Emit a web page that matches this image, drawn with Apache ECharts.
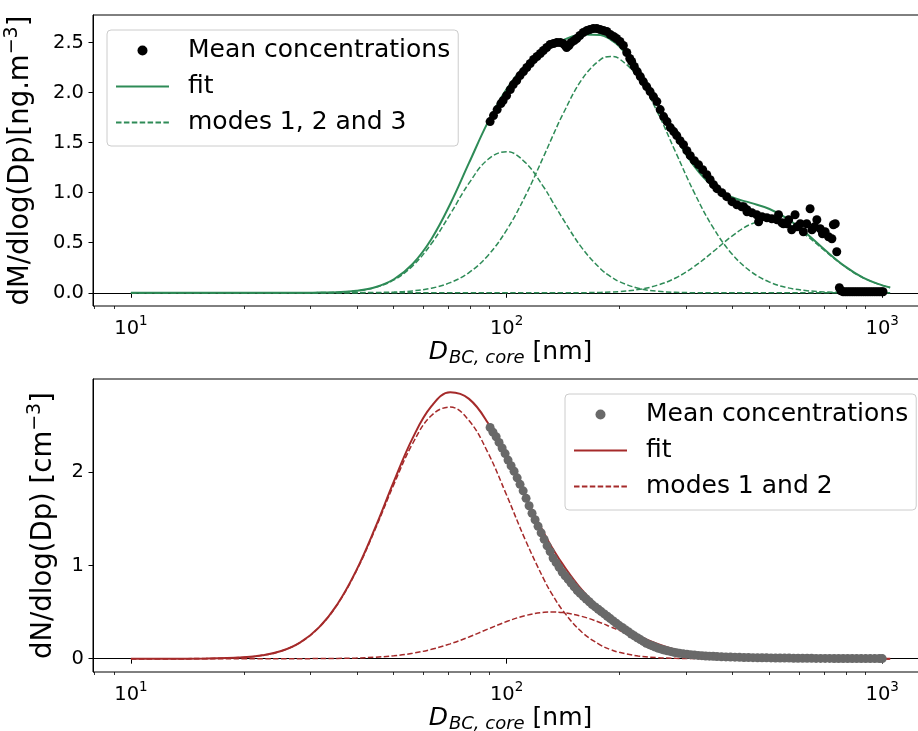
<!DOCTYPE html>
<html><head><meta charset="utf-8">
<script src="https://cdn.jsdelivr.net/npm/echarts@6/dist/echarts.min.js"></script>
<style>html,body{margin:0;padding:0;background:#fff}#c{width:918px;height:731px}</style>
</head><body><div id="c"></div>
<script>
// ---------- data ----------
const curveD = [10,12.59,15.85,19.95,22.39,25.12,28.18,31.62,35.48,39.81,44.67,50.12,56.23,63.10,70.79,79.43,89.13,100,112.2,125.9,132.1,141.3,158.5,177.8,189.2,199.5,223.9,251.2,281.8,316.2,354.8,398.1,446.7,501.2,562.3,631.0,707.9,794.3,891.3,1000,1050];

const topMode1 = [0,0,0,0,0,0,0,0.002,0.006,0.019,0.053,0.128,0.269,0.492,0.786,1.095,1.331,1.410,1.301,1.049,0.919,0.737,0.451,0.241,0.162,0.112,0.046,0.016,0.005,0.001,0,0,0,0,0,0,0,0,0,0,0];
const topMode2 = [0,0,0,0,0,0,0,0,0,0.001,0.003,0.007,0.019,0.046,0.101,0.202,0.371,0.626,0.968,1.373,1.550,1.786,2.129,2.330,2.360,2.338,2.152,1.817,1.406,0.998,0.650,0.388,0.213,0.107,0.049,0.021,0.008,0.003,0.001,0,0];
const topMode3 = [0,0,0,0,0,0,0,0,0,0,0,0,0,0,0,0,0,0,0,0,0,0,0.001,0.004,0.008,0.012,0.032,0.074,0.148,0.263,0.411,0.566,0.685,0.730,0.685,0.566,0.411,0.263,0.148,0.074,0.053];
const topFit   = [0,0,0,0,0,0,0,0.002,0.006,0.020,0.056,0.135,0.288,0.538,0.887,1.297,1.702,2.036,2.269,2.422,2.469,2.523,2.581,2.575,2.530,2.462,2.230,1.907,1.559,1.262,1.061,0.954,0.898,0.837,0.734,0.587,0.419,0.266,0.149,0.074,0.053];

const botMode1 = [0,0,0.002,0.014,0.036,0.082,0.173,0.332,0.584,0.940,1.386,1.870,2.308,2.609,2.699,2.554,2.213,1.755,1.273,0.845,0.693,0.514,0.286,0.146,0.097,0.068,0.029,0.011,0.004,0.001,0,0,0,0,0,0,0,0,0,0,0];
const botMode2 = [0,0,0,0,0,0,0,0.001,0.003,0.007,0.016,0.031,0.058,0.100,0.159,0.233,0.317,0.398,0.462,0.497,0.500,0.494,0.454,0.386,0.342,0.303,0.221,0.149,0.092,0.053,0.028,0.014,0.006,0.003,0.001,0,0,0,0,0,0];
const botFit   = [0,0,0.002,0.014,0.036,0.082,0.173,0.333,0.587,0.947,1.402,1.901,2.366,2.709,2.858,2.787,2.530,2.153,1.735,1.342,1.193,1.008,0.740,0.532,0.439,0.371,0.250,0.160,0.096,0.054,0.028,0.014,0.006,0.003,0.001,0,0,0,0,0,0];

const topDotD = [90.4,92.3,94.4,96.6,97.9,100,102.3,104.2,106.4,108.6,110.9,113.2,115.6,118.0,120.5,123.0,125.3,127.9,130.6,133.4,136.1,139.0,141.3,143.2,144.5,146.6,148.6,151.4,153.8,156.7,160.0,163.7,166.7,170.2,173.8,177.4,181.1,184.9,188.8,192.8,196.3,200.4,204.6,208.9,212.8,215.3,218.8,222.8,227.0,231.2,236.0,241.0,246.0,251.2,256.4,261.8,267.3,272.9,278.6,283.8,289.7,295.8,302.0,308.3,316.2,324.3,332.7,341.2,348.3,355.6,363.1,374.1,385.5,398.1,410.2,422.7,436.5,449.8,463.4,478.6,493.2,508.2,524.8,540.8,557.2,574.1,586.1,592.9,605.3,616.6,629.5,642.7,650.1,660.7,669.9,683.9,693.4,704.7,719.5,734.5,741.3,749.9,756.8,
  427.6,436.5,468.8,529.7,545.8,563.7,
  769.0,776.2,787.0,798.0,809.1,820.4,831.8,843.3,855.1,867.0,879.0,891.3,903.6,916.2,929.0,941.9,955.0,968.3,981.8,995.4,1005];
const topDotV = [1.71,1.77,1.83,1.89,1.92,1.97,2.03,2.08,2.12,2.17,2.21,2.25,2.29,2.33,2.36,2.39,2.42,2.45,2.48,2.49,2.50,2.50,2.49,2.47,2.45,2.47,2.50,2.52,2.54,2.57,2.60,2.62,2.63,2.64,2.64,2.63,2.62,2.61,2.58,2.56,2.54,2.51,2.47,2.40,2.34,2.31,2.26,2.21,2.16,2.11,2.06,2.01,1.96,1.91,1.83,1.76,1.71,1.65,1.61,1.57,1.52,1.48,1.42,1.37,1.32,1.28,1.23,1.18,1.13,1.08,1.04,1.00,0.96,0.91,0.88,0.86,0.83,0.80,0.78,0.76,0.75,0.74,0.73,0.70,0.69,0.63,0.78,0.66,0.69,0.61,0.69,0.84,0.63,0.66,0.73,0.64,0.59,0.61,0.56,0.54,0.68,0.69,0.41,
  0.86,0.81,0.71,0.78,0.69,0.73,
  0.05,0.02,0.01,0.01,0.01,0.01,0.01,0.01,0.01,0.01,0.01,0.01,0.01,0.01,0.01,0.01,0.01,0.01,0.01,0.01,0.01];

const botDotD = [90.4,92.0,93.8,95.5,97.3,99.1,100.9,102.8,104.7,106.7,108.6,110.7,112.7,114.8,116.9,119.1,121.3,123.6,125.9,128.2,130.6,133.0,135.5,138.0,140.6,143.2,145.9,148.6,151.4,154.2,157.0,160.0,162.9,166.0,169.0,172.2,175.4,178.6,182.0,185.4,188.8,192.3,195.9,199.5,203.2,207.0,210.9,214.8,218.8,222.8,227.0,231.2,235.5,239.9,244.3,248.9,253.5,258.2,263.0,267.9,272.9,278.0,283.1,288.4,295.1,302.0,309.0,316.2,323.6,331.1,338.8,346.7,354.8,363.1,373.3,383.7,394.5,405.5,416.9,428.5,440.6,452.9,465.6,478.6,492.0,505.8,520.0,534.6,549.5,565.0,580.8,597.0,613.8,631.0,648.6,666.8,685.5,704.7,724.4,744.7,765.6,787.0,809.1,831.8,855.1,879.0,903.6,929.0,955.0,981.8,1000];
const botDotV = [2.48,2.43,2.38,2.32,2.26,2.20,2.13,2.07,2.01,1.94,1.87,1.80,1.72,1.64,1.56,1.49,1.42,1.35,1.28,1.21,1.15,1.08,1.03,0.98,0.93,0.89,0.85,0.81,0.77,0.73,0.70,0.67,0.64,0.61,0.58,0.555,0.53,0.505,0.48,0.455,0.43,0.405,0.38,0.355,0.335,0.31,0.29,0.265,0.245,0.225,0.205,0.185,0.165,0.15,0.138,0.125,0.112,0.102,0.093,0.085,0.078,0.07,0.064,0.058,0.052,0.047,0.043,0.039,0.035,0.032,0.029,0.027,0.025,0.023,0.021,0.019,0.017,0.016,0.014,0.013,0.012,0.011,0.010,0.009,0.009,0.008,0.007,0.007,0.006,0.006,0.005,0.005,0.004,0.004,0.004,0.003,0.003,0.003,0.003,0.002,0.002,0.002,0.002,0.002,0.001,0.001,0.001,0.001,0.001,0.001,0.001];

const xMajorTicks = [10, 100, 1000];
const xMinorTicks = [8, 9, 20, 30, 40, 50, 60, 70, 80, 90, 200, 300, 400, 500, 600, 700, 800, 900];
const topYTicks = [0, 0.5, 1, 1.5, 2, 2.5];
const botYTicks = [0, 1, 2];

const topLegendNames = ['Mean concentrations', 'fit', 'modes 1, 2 and 3'];
const botLegendNames = ['Mean concentrations', 'fit', 'modes 1 and 2'];

// ---------- chart ----------
const FONT = 'DejaVu Sans';
const GREEN = '#2E8B57';
const RED = '#A52A2A';
const GREY = '#696969';
const XMIN = 7.925, XMAX = 1324;

function pairs(xs, ys) { return xs.map((x, i) => [x, ys[i]]); }

function xMain(gridIndex) {
  return {
    type: 'log', logBase: 10, gridIndex, min: XMIN, max: XMAX, position: 'bottom',
    axisLine: { show: true, lineStyle: { color: '#000', width: 1 } },
    axisTick: { show: true, customValues: xMajorTicks, length: 5, lineStyle: { color: '#000', width: 1 } },
    axisLabel: {
      show: true, customValues: xMajorTicks, margin: 8, color: '#000',
      formatter: v => '{b|10}{s|' + Math.round(Math.log10(v)) + '}',
      rich: {
        b: { fontSize: 19.5, fontFamily: FONT, color: '#000' },
        s: { fontSize: 13.5, fontFamily: FONT, color: '#000', padding: [0, 0, 15, 0] }
      }
    },
    splitLine: { show: false },
    nameLocation: 'middle', nameGap: 31, nameMoveOverlap: false,
    name: '{i|D}{sub|BC, core}{n| [nm]}',
    nameTextStyle: {
      rich: {
        i: { fontSize: 25, fontStyle: 'italic', fontFamily: FONT, color: '#000' },
        sub: { fontSize: 18, fontStyle: 'italic', fontFamily: FONT, color: '#000', padding: [12, 0, 0, 1] },
        n: { fontSize: 25, fontFamily: FONT, color: '#000' }
      }
    }
  };
}
function xMinor(gridIndex) {
  return {
    type: 'log', logBase: 10, gridIndex, min: XMIN, max: XMAX, position: 'bottom',
    axisLine: { show: false },
    axisTick: { show: true, customValues: xMinorTicks, length: 3, lineStyle: { color: '#000', width: 0.8 } },
    axisLabel: { show: false },
    splitLine: { show: false }
  };
}
function yAxis(gridIndex, min, max, ticks, fmt, name, gap) {
  return {
    type: 'value', gridIndex, min, max,
    axisLine: { show: true, lineStyle: { color: '#000', width: 1 } },
    axisTick: { show: true, customValues: ticks, length: 4.5, lineStyle: { color: '#000', width: 1 } },
    axisLabel: { show: true, customValues: ticks, formatter: fmt, margin: 9, color: '#000', fontSize: 19.5, fontFamily: FONT },
    splitLine: { show: false },
    name, nameLocation: 'middle', nameRotate: 90, nameGap: gap, nameMoveOverlap: false,
    nameTextStyle: {
      rich: {
        a: { fontSize: 27.5, fontFamily: FONT, color: '#000' },
        s: { fontSize: 19, fontFamily: FONT, color: '#000', padding: [0, 0, 16, 0] }
      }
    }
  };
}
const HIDDEN = { color: 'rgba(0,0,0,0)', borderColor: 'rgba(0,0,0,0)', borderWidth: 0, opacity: 0 };
function legend(left, top, names, suffix) {
  return {
    show: true, orient: 'vertical', left, top, selectedMode: false,
    padding: [8, 8, 11, 8], itemGap: 11, itemWidth: 53, itemHeight: 10,
    backgroundColor: 'rgba(255,255,255,0.8)', borderColor: '#cccccc', borderWidth: 1, borderRadius: 4,
    textStyle: { fontSize: 25, color: '#000', fontFamily: FONT, padding: [0, 0, 0, 14] },
    formatter: n => n.replace(suffix, ''),
    data: [
      { name: names[0] + suffix, icon: 'circle' },
      { name: names[1] + suffix, itemStyle: HIDDEN },
      { name: names[2], itemStyle: HIDDEN }
    ]
  };
}
function modeLine(name, xi, yi, ys, color) {
  return { type: 'line', name, xAxisIndex: xi, yAxisIndex: yi, data: pairs(curveD, ys), showSymbol: false, symbol: 'none',
    smooth: 0.4, lineStyle: { color, width: 1.5, type: [5.5, 2.4] }, itemStyle: { color }, silent: true, z: 2 };
}
function fitLine(name, xi, yi, ys, color) {
  return { type: 'line', name, xAxisIndex: xi, yAxisIndex: yi, data: pairs(curveD, ys), showSymbol: false, symbol: 'none',
    smooth: 0.4, lineStyle: { color, width: 2 }, itemStyle: { color }, silent: true, z: 3 };
}
function dots(name, xi, yi, xs, ys, color) {
  return { type: 'scatter', name, xAxisIndex: xi, yAxisIndex: yi, data: pairs(xs, ys), symbol: 'circle', symbolSize: 9,
    itemStyle: { color, opacity: 1 }, silent: true, z: 4 };
}

const chart = echarts.init(document.getElementById('c'), null, { renderer: 'canvas' });
chart.setOption({
  animation: false,
  backgroundColor: '#fff',
  grid: [
    { left: 93, top: 15, width: 835, height: 291, show: true, borderColor: '#000', borderWidth: 1, containLabel: false, outerBoundsMode: 'none' },
    { left: 93, top: 379, width: 835, height: 293, show: true, borderColor: '#000', borderWidth: 1, containLabel: false, outerBoundsMode: 'none' }
  ],
  xAxis: [xMain(0), xMinor(0), xMain(1), xMinor(1)],
  yAxis: [
    yAxis(0, -0.132, 2.775, topYTicks, v => v.toFixed(1), '{a|dM/dlog(Dp)[ng.m}{s|−3}{a|]}', 55),
    yAxis(1, -0.143, 3.0, botYTicks, v => String(Math.round(v)), '{a|dN/dlog(Dp) [cm}{s|−3}{a|]}', 32)
  ],
  legend: [
    legend(107, 30, topLegendNames, ''),
    legend(565, 394, botLegendNames, ' (N)')
  ],
  series: [
    modeLine(topLegendNames[2], 0, 0, topMode1, GREEN),
    modeLine(topLegendNames[2], 0, 0, topMode2, GREEN),
    modeLine(topLegendNames[2], 0, 0, topMode3, GREEN),
    fitLine(topLegendNames[1], 0, 0, topFit, GREEN),
    dots(topLegendNames[0], 0, 0, topDotD, topDotV, '#000'),
    modeLine(botLegendNames[2], 2, 1, botMode1, RED),
    modeLine(botLegendNames[2], 2, 1, botMode2, RED),
    fitLine(botLegendNames[1] + ' (N)', 2, 1, botFit, RED),
    dots(botLegendNames[0] + ' (N)', 2, 1, botDotD, botDotV, GREY)
  ]
});
</script>
</body></html>
